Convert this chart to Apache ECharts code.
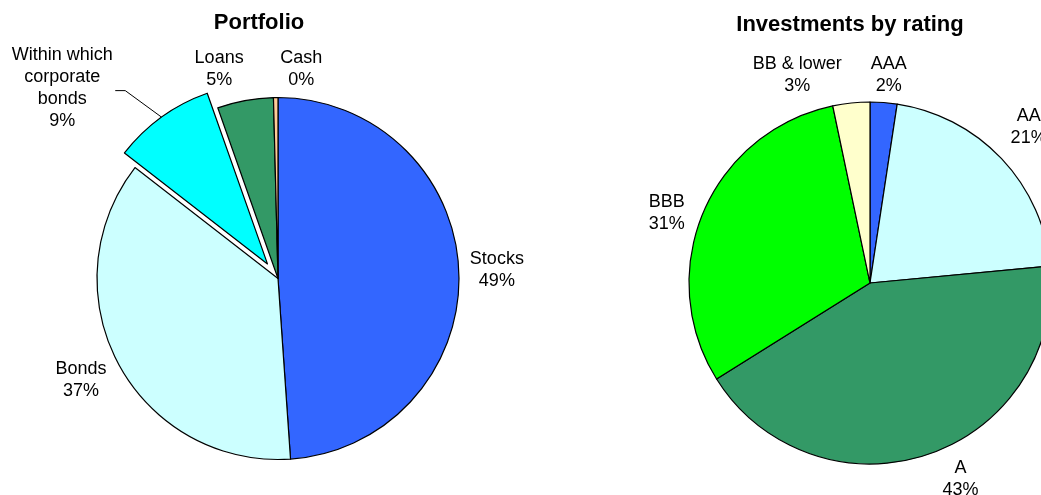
<!DOCTYPE html>
<html>
<head>
<meta charset="utf-8">
<script src="https://cdn.jsdelivr.net/npm/echarts@6/dist/echarts.min.js"></script>
<style>
html,body{margin:0;padding:0;background:#fff;}
#chart{width:1041px;height:495px;}
</style>
</head>
<body>
<div id="chart"></div>
<script>
// ---- data ----
const portfolioNames = ['Stocks', 'Bonds', 'Within which\ncorporate\nbonds', 'Loans', 'Cash'];
const portfolioValues = [48.9, 36.6, 9.1, 5.0, 0.4];
const ratingNames = ['AAA', 'AA', 'A', 'BBB', 'BB & lower'];
const ratingValues = [2.4, 21.1, 42.6, 30.6, 3.3];
const titles = ['Portfolio', 'Investments by rating'];

// ---- styles ----
const portfolioColors = ['#3366FF', '#CCFFFF', '#00FFFF', '#339966', '#FFCC99'];
const ratingColors = ['#3366FF', '#CCFFFF', '#339966', '#00FF00', '#FFFFCC'];
const FONT = 'Liberation Sans, Arial, sans-serif';
const R = 181;
const BORDER = 1.2;
const leftCenter = [278, 278.5];
const rightCenter = [870, 283];
const explodeIndex = 2;
const explodeOffset = 18;
// label tweaks (dx, dy) relative to radial position
const leftLabelShift = [[-1, -1], [-3, -2], [-87, -12], [-19, 7], [26, 11]];
const rightLabelShift = [[3, 1], [6, -12], [23, -3], [-10, 12], [-51, 1]];

function midDir(values, i) {
  const total = values.reduce((a, b) => a + b, 0);
  let cum = 0;
  for (let k = 0; k < i; k++) cum += values[k];
  const ang = (cum + values[i] / 2) / total * 2 * Math.PI;
  return [Math.sin(ang), -Math.cos(ang)];
}

const exDir = midDir(portfolioValues, explodeIndex);
const explodedCenter = [leftCenter[0] + exDir[0] * explodeOffset, leftCenter[1] + exDir[1] * explodeOffset];

function makeLayout(values, center, labelCenter, dist, shifts, leaderIdx) {
  return function (p) {
    const i = p.dataIndex;
    const d = midDir(values, i);
    const x = labelCenter[0] + d[0] * dist + shifts[i][0];
    const y = labelCenter[1] + d[1] * dist + shifts[i][1];
    const out = { x: x, y: y, align: 'center', verticalAlign: 'middle' };
    if (leaderIdx != null && i === leaderIdx) {
      const ax = center[0] + d[0] * R;
      const ay = center[1] + d[1] * R;
      out.labelLinePoints = [[x + 53, y + 2.5], [x + 63, y + 2.5], [ax, ay]];
    }
    return out;
  };
}

// which: function(i) -> true if slice is drawn in this series
function buildData(names, values, colors, which, leaderIdx) {
  return names.map((n, i) => {
    const on = which(i);
    return {
      name: n,
      value: values[i],
      itemStyle: on ? { color: colors[i], borderColor: '#000', borderWidth: BORDER }
                    : { color: 'rgba(0,0,0,0)', borderWidth: 0 },
      label: { show: on },
      labelLine: { show: on && i === leaderIdx, lineStyle: { color: '#000', width: 1 } }
    };
  });
}

const labelStyle = {
  show: true,
  position: 'outside',
  color: '#000',
  fontFamily: FONT,
  fontSize: 18,
  lineHeight: 22,
  align: 'center',
  formatter: p => p.name + '\n' + Math.round(p.percent) + '%'
};

function pieSeries(center, values, data, layout) {
  return {
    type: 'pie',
    center: center,
    radius: R,
    startAngle: 90,
    clockwise: true,
    avoidLabelOverlap: false,
    selectedMode: false,
    silent: true,
    label: labelStyle,
    labelLine: { show: false },
    labelLayout: layout,
    emphasis: { disabled: true },
    data: data
  };
}

const chart = echarts.init(document.getElementById('chart'), null, { renderer: 'canvas' });
chart.setOption({
  animation: false,
  backgroundColor: '#fff',
  graphic: [
    { type: 'text', x: 259, y: 22.5, style: { text: titles[0], font: 'bold 22px ' + FONT, fill: '#000', align: 'center', verticalAlign: 'middle' } },
    { type: 'text', x: 850, y: 24.5, style: { text: titles[1], font: 'bold 22px ' + FONT, fill: '#000', align: 'center', verticalAlign: 'middle' } }
  ],
  series: [
    pieSeries(leftCenter, portfolioValues,
      buildData(portfolioNames, portfolioValues, portfolioColors, i => i !== explodeIndex, null),
      makeLayout(portfolioValues, leftCenter, leftCenter, 220, leftLabelShift, null)),
    pieSeries(explodedCenter, portfolioValues,
      buildData(portfolioNames, portfolioValues, portfolioColors, i => i === explodeIndex, explodeIndex),
      makeLayout(portfolioValues, explodedCenter, leftCenter, 220, leftLabelShift, explodeIndex)),
    pieSeries(rightCenter, ratingValues,
      buildData(ratingNames, ratingValues, ratingColors, i => true, null),
      makeLayout(ratingValues, rightCenter, rightCenter, 210, rightLabelShift, null))
  ]
});
</script>
</body>
</html>
